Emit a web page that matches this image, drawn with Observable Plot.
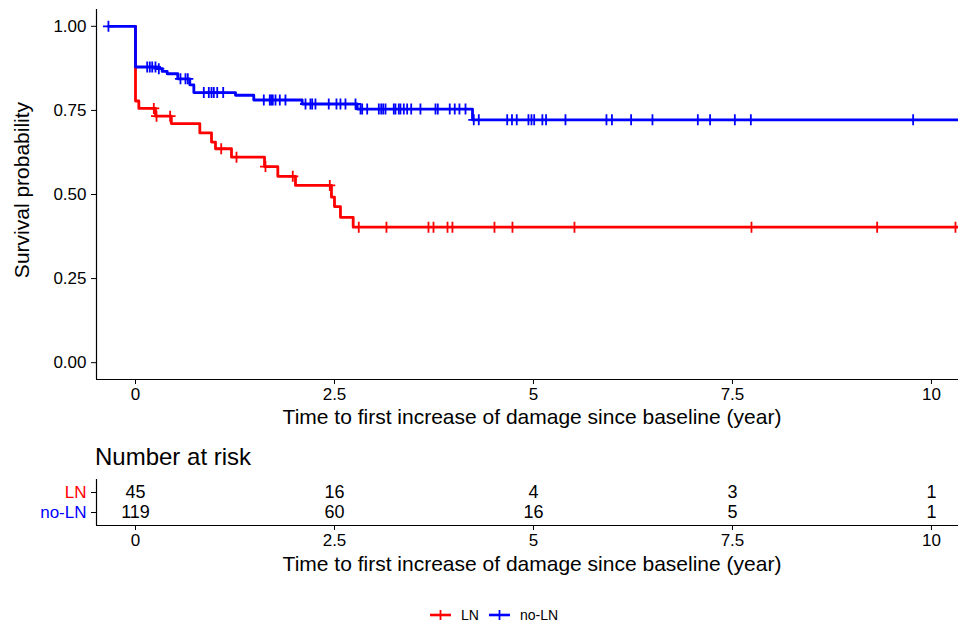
<!DOCTYPE html>
<html><head><meta charset="utf-8">
<script src="https://cdn.jsdelivr.net/npm/d3@7"></script>
<script src="https://cdn.jsdelivr.net/npm/@observablehq/plot@0.6"></script>
<style>
body{margin:0;background:#fff;font-family:"Liberation Sans",Arial,sans-serif;}
#wrap{position:relative;width:959px;height:626px;overflow:hidden;background:#fff;color:#000}
.abs{position:absolute;white-space:nowrap}
.abs svg{display:block}
</style></head><body><div id="wrap"></div>
<script>
// ---- data ----
const groups = ["LN", "no-LN"];
const colors = ["#FF0000", "#0000FF"];

// Kaplan-Meier steps (time in years, survival after the step)
const lnTime = [0, 0, 0.042, 0.251, 0.45, 0.808, 0.955, 1.005, 1.206, 1.621, 1.788, 2.010, 2.462, 2.500, 2.575, 2.735, 10.4];
const lnSurv = [1, 0.778, 0.756, 0.733, 0.711, 0.683, 0.656, 0.636, 0.611, 0.583, 0.554, 0.527, 0.492, 0.464, 0.432, 0.403, 0.403];
const lnCensor = [0.23, 0.264, 0.435, 1.077, 1.269, 1.633, 1.976, 2.441, 2.805, 3.153, 3.681, 3.744, 3.92, 3.982, 4.51, 4.736, 5.515, 7.739, 9.318, 10.302];

const noLnTime = [-0.34, 0, 0.273, 0.335, 0.398, 0.531, 0.682, 0.733, 1.256, 1.486, 2.094, 2.785, 4.234, 10.4];
const noLnSurv = [1, 0.879, 0.874, 0.866, 0.859, 0.844, 0.826, 0.803, 0.795, 0.781, 0.769, 0.754, 0.722, 0.722];
const noLnCensor = [-0.34, 0.147, 0.18, 0.21, 0.251, 0.293, 0.565, 0.628, 0.657, 0.858, 0.921, 0.955, 0.984, 1.027, 1.102,
  1.612, 1.687, 1.705, 1.725, 1.759, 1.813, 1.884, 2.136, 2.198, 2.22, 2.261, 2.428, 2.525, 2.575, 2.638, 2.764,
  2.827, 2.848, 2.911, 3.057, 3.087, 3.112, 3.141, 3.245, 3.266, 3.308, 3.329, 3.371, 3.413, 3.464, 3.58, 3.769,
  3.798, 3.948, 4.011, 4.07, 4.146, 4.25, 4.313, 4.67, 4.73, 4.79, 4.937, 4.975, 5.009, 5.112, 5.158, 5.402,
  5.917, 5.986, 6.227, 6.495, 7.065, 7.219, 7.53, 7.731, 9.77];

// Number at risk table
const riskTimes = [0, 2.5, 5, 7.5, 10];
const riskLN = [45, 16, 4, 3, 1];
const riskNoLN = [119, 60, 16, 5, 1];

const xTicks = [0, 2.5, 5, 7.5, 10];
const yTicks = [0, 0.25, 0.5, 0.75, 1];
const xDomain = [-0.49, 10.34];
const yDomain = [-0.05, 1.05];

const xTitle = "Time to first increase of damage since baseline (year)";
const yTitle = "Survival probability";
const tableTitle = "Number at risk";

// ---- build tables ----
function survAt(times, surv, t) {
  let s = surv[0];
  for (let i = 0; i < times.length; i++) if (times[i] <= t) s = surv[i];
  return s;
}
const steps = [
  ...lnTime.map((t, i) => ({group: "LN", time: t, surv: lnSurv[i]})),
  ...noLnTime.map((t, i) => ({group: "no-LN", time: t, surv: noLnSurv[i]}))
];
const censors = [
  ...lnCensor.map(t => ({group: "LN", time: t, surv: survAt(lnTime, lnSurv, t)})),
  ...noLnCensor.map(t => ({group: "no-LN", time: t, surv: survAt(noLnTime, noLnSurv, t)}))
];
const risk = [
  ...riskTimes.map((t, i) => ({group: "LN", time: t, n: riskLN[i]})),
  ...riskTimes.map((t, i) => ({group: "no-LN", time: t, n: riskNoLN[i]}))
];
const colorOf = Object.fromEntries(groups.map((g, i) => [g, colors[i]]));

const plusSymbol = {
  draw(ctx, size) {
    const r = Math.sqrt(size / Math.PI);
    ctx.moveTo(-r, 0); ctx.lineTo(r, 0);
    ctx.moveTo(0, -r); ctx.lineTo(0, r);
  }
};

const fontFamily = "Liberation Sans, Arial, sans-serif";
const wrap = document.getElementById("wrap");
function place(el, left, top) {
  const d = document.createElement("div");
  d.className = "abs";
  d.style.left = left + "px"; d.style.top = top + "px";
  d.appendChild(el);
  wrap.appendChild(d);
  return d;
}
function label(text, left, top, size, extra) {
  const d = document.createElement("div");
  d.className = "abs";
  d.textContent = text;
  Object.assign(d.style, {left: left + "px", top: top + "px", fontSize: size + "px", lineHeight: size + "px"}, extra || {});
  wrap.appendChild(d);
  return d;
}

// ---- main survival plot ----
const main = Plot.plot({
  width: 959, height: 440,
  marginLeft: 96, marginRight: 1, marginTop: 9, marginBottom: 61,
  style: {fontFamily, background: "white", color: "black", overflow: "visible"},
  x: {domain: xDomain, label: null},
  y: {domain: yDomain, label: null},
  color: {domain: groups, range: colors},
  marks: [
    Plot.line(steps, {x: "time", y: "surv", stroke: "group", z: "group", curve: "step-after", strokeWidth: 2.8, clip: true}),
    Plot.dot(censors, {x: "time", y: "surv", stroke: "group", fill: "none", symbol: plusSymbol, r: 5.5, strokeWidth: 1.8, clip: true}),
    Plot.ruleX([xDomain[0]], {stroke: "black", strokeWidth: 1.2}),
    Plot.ruleY([yDomain[0]], {stroke: "black", strokeWidth: 1.2}),
    Plot.axisX({ticks: xTicks, tickFormat: d => String(d), tickSize: 5, tickPadding: 3, fontSize: 17, label: null, stroke: "black", fill: "black"}),
    Plot.axisY({ticks: yTicks, tickFormat: d3.format(".2f"), tickSize: 5, tickPadding: 5, fontSize: 17, label: null, stroke: "black", fill: "black"})
  ]
});
place(main, 0, 0);

// ---- number at risk table ----
const table = Plot.plot({
  width: 959, height: 80,
  marginLeft: 96, marginRight: 1, marginTop: 9, marginBottom: 25,
  style: {fontFamily, background: "white", color: "black", overflow: "visible"},
  x: {domain: xDomain, label: null},
  y: {type: "point", domain: groups, padding: 0.65, label: null},
  marks: [
    Plot.ruleX([xDomain[0]], {stroke: "black", strokeWidth: 1.2}),
    Plot.axisX({ticks: xTicks, tickFormat: d => String(d), tickSize: 5, tickPadding: 3, fontSize: 17, label: null, stroke: "black", fill: "black"}),
    Plot.axisY({ticks: groups, tickSize: 5, tickPadding: 5, fontSize: 17, label: null, stroke: "black", fill: d => colorOf[d]}),
    Plot.text(risk, {x: "time", y: "group", text: "n", fontSize: 18, fill: "black"})
  ]
});
place(table, 0, 470);
// bottom axis line of the table across the same x scale
const tableLine = Plot.plot({
  width: 959, height: 2, marginLeft: 96, marginRight: 1, marginTop: 1, marginBottom: 1,
  style: {background: "transparent", overflow: "visible"},
  x: {domain: xDomain, axis: null}, y: {domain: [0, 1], axis: null},
  marks: [Plot.ruleY([0], {x1: xDomain[0], x2: xDomain[1], stroke: "black", strokeWidth: 1.2})]
});
place(tableLine, 0, 524);

// ---- titles ----
label(yTitle, 22 - 150, 178, 21, {width: "300px", textAlign: "center", transform: "rotate(-90deg)", lineHeight: "24px"});
label(xTitle, 232, 406, 21, {width: "600px", textAlign: "center"});
label(tableTitle, 95, 445, 24);
label(xTitle, 232, 553, 21, {width: "600px", textAlign: "center"});

// ---- legend ----
const legend = document.createElement("div");
legend.className = "abs";
Object.assign(legend.style, {left: "430px", top: "606px", height: "18px", display: "flex", alignItems: "center", fontSize: "14px"});
groups.forEach((g, i) => {
  const key = document.createElementNS("http://www.w3.org/2000/svg", "svg");
  key.setAttribute("width", 21); key.setAttribute("height", 14);
  key.innerHTML = `<path d="M0,7H21" stroke="${colors[i]}" stroke-width="2.6"/><path d="M10.5,2V12" stroke="${colors[i]}" stroke-width="1.8"/>`;
  key.style.marginRight = "10px";
  const t = document.createElement("span");
  t.textContent = g;
  t.style.marginRight = i === 0 ? "10px" : "0";
  legend.appendChild(key); legend.appendChild(t);
});
wrap.appendChild(legend);
</script></body></html>
